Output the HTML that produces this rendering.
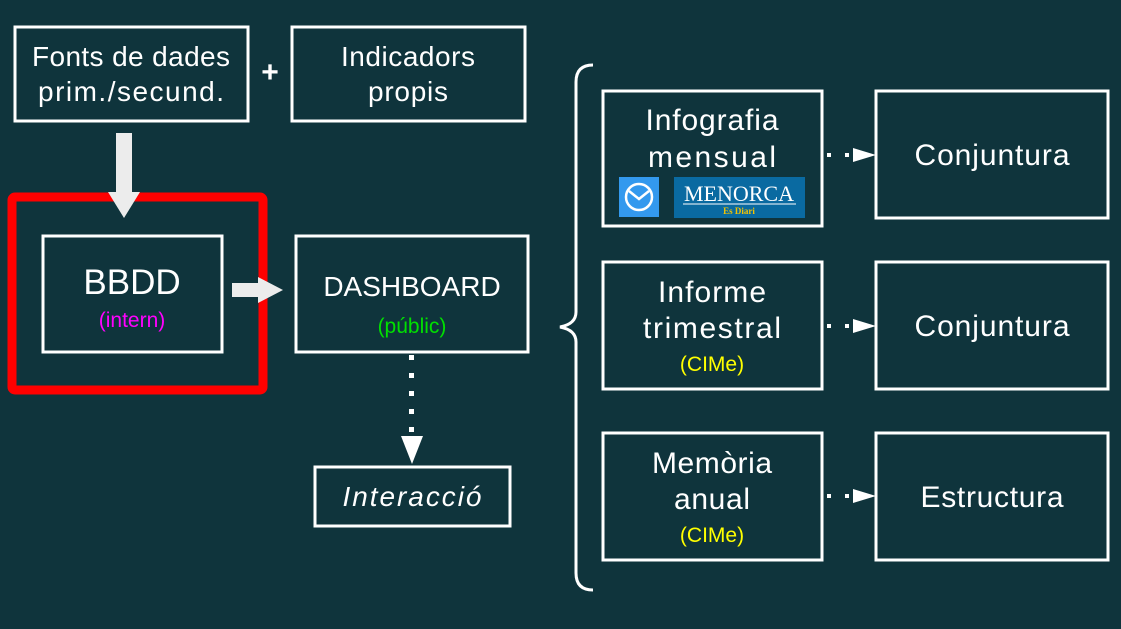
<!DOCTYPE html>
<html><head><meta charset="utf-8"><style>
html,body{margin:0;padding:0;background:#0f343c;}
svg{display:block;}
text{font-family:"Liberation Sans",sans-serif;fill:#fff;text-anchor:middle;}
</style></head><body>
<svg width="1121" height="629" viewBox="0 0 1121 629" xmlns="http://www.w3.org/2000/svg">
<rect width="1121" height="629" fill="#0f343c"/>
<g fill="none" stroke="#fff" stroke-width="3">
<rect x="15" y="27" width="233" height="94"/>
<rect x="292" y="27" width="233" height="94"/>
<rect x="43" y="236" width="179" height="116"/>
<rect x="296" y="236" width="232" height="116"/>
<rect x="315" y="467" width="195" height="59"/>
<rect x="603" y="91" width="219" height="135"/>
<rect x="876" y="91" width="232" height="127"/>
<rect x="603" y="262" width="219" height="127"/>
<rect x="876" y="262" width="232" height="127"/>
<rect x="603" y="433" width="219" height="127"/>
<rect x="876" y="433" width="232" height="127"/>
<path d="M593 65 Q576 65 576 82 L576 312 Q576 324 560 327 Q576 330 576 342 L576 573 Q576 590 593 590"/>
</g>
<rect x="12" y="197" width="251" height="193" fill="none" stroke="#ff0000" stroke-width="9" rx="3"/>
<rect x="116" y="133" width="16" height="60" fill="#ececec"/>
<polygon points="108,192 140,192 124,218" fill="#ececec"/>
<rect x="232" y="283" width="28" height="14" fill="#ececec"/>
<polygon points="258,277 283,290 258,303" fill="#ececec"/>
<g fill="#fff">
<rect x="409" y="355" width="5" height="5"/><rect x="409" y="373" width="5" height="5"/><rect x="409" y="391" width="5" height="5"/><rect x="409" y="409" width="5" height="5"/><rect x="409" y="427" width="5" height="5"/>
<polygon points="401,436 423,436 412,464"/>
<g id="h"><rect x="827" y="153" width="4" height="4"/><rect x="845" y="153" width="4" height="4"/><polygon points="853,148 876,155 853,162"/></g>
<use href="#h" transform="translate(0,171)"/>
<use href="#h" transform="translate(0,341)"/>
</g>
<text x="131" y="66" font-size="28" textLength="198">Fonts de dades</text>
<text x="131" y="101" font-size="28" textLength="186">prim./secund.</text>
<text x="270" y="82" font-size="30" font-weight="bold">+</text>
<text x="408" y="66" font-size="28" textLength="134">Indicadors</text>
<text x="408" y="101" font-size="28" textLength="80">propis</text>
<text x="132" y="294" font-size="35">BBDD</text>
<text x="132" y="327" font-size="21" style="fill:#ff00ff">(intern)</text>
<text x="412" y="296" font-size="28">DASHBOARD</text>
<text x="412" y="333" font-size="21" style="fill:#00e000">(públic)</text>
<text x="412" y="506" font-size="28" font-style="italic" textLength="139">Interacció</text>
<text x="712" y="130" font-size="30" textLength="133">Infografia</text>
<text x="712" y="167" font-size="30" textLength="128">mensual</text>
<rect x="619" y="177" width="40" height="40" fill="#3399ee"/>
<circle cx="639" cy="197" r="13" fill="none" stroke="#fff" stroke-width="2.5"/>
<path d="M629 191 L639 199 L649 191" fill="none" stroke="#fff" stroke-width="2.5"/>
<rect x="674" y="177" width="131" height="41" fill="#0a6aa1"/>
<text x="739" y="201" font-size="22" style="font-family:'Liberation Serif',serif">MENORCA</text>
<line x1="683" y1="204" x2="796" y2="204" stroke="#fff" stroke-width="1"/>
<text x="739" y="214" font-size="9" font-weight="bold" style="fill:#f5c400;font-family:'Liberation Serif',serif">Es Diari</text>
<text x="992" y="165" font-size="30" textLength="155">Conjuntura</text>
<text x="712" y="302" font-size="30" textLength="108">Informe</text>
<text x="712" y="338" font-size="30" textLength="138">trimestral</text>
<text x="712" y="371" font-size="21" style="fill:#ffff00">(CIMe)</text>
<text x="992" y="336" font-size="30" textLength="155">Conjuntura</text>
<text x="712" y="473" font-size="30" textLength="120">Memòria</text>
<text x="712" y="509" font-size="30" textLength="76">anual</text>
<text x="712" y="542" font-size="21" style="fill:#ffff00">(CIMe)</text>
<text x="992" y="507" font-size="30" textLength="143">Estructura</text>
</svg>
</body></html>
